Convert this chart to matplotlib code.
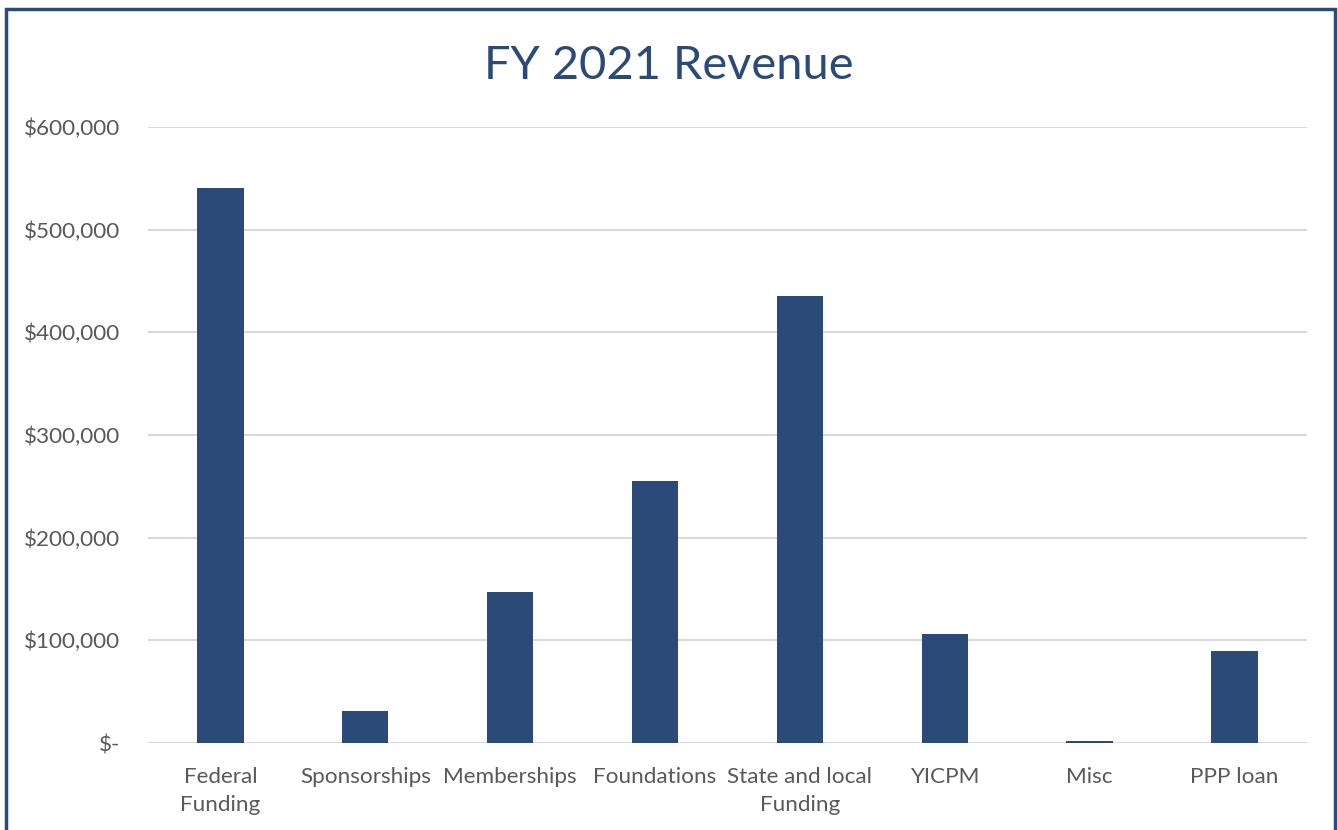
import matplotlib.pyplot as plt
from matplotlib.patches import Rectangle
from matplotlib.ticker import FuncFormatter

# Data
categories = ['Federal\nFunding', 'Sponsorships', 'Memberships', 'Foundations',
              'State and local\nFunding', 'YICPM', 'Misc', 'PPP loan']
revenue = [541000, 31000, 147000, 255000, 435000, 106000, 2000, 90000]
yticks = [0, 100000, 200000, 300000, 400000, 500000, 600000]

bar_color = '#2C4A77'
text_gray = '#595959'

plt.rcParams['font.family'] = ['Lato', 'DejaVu Sans']

fig = plt.figure(figsize=(13.38, 8.30), dpi=100)
ax = fig.add_axes([0.1106, 0.1048, 0.8662, 0.7422])

x = range(len(categories))
ax.bar(x, revenue, width=0.32, color=bar_color, zorder=3)

ax.set_xlim(-0.5, len(categories) - 0.5)
ax.set_ylim(0, 600000)
ax.set_yticks(yticks)


def money(v, pos):
    if v == 0:
        return '$-'
    return '${:,.0f}'.format(v)


ax.yaxis.set_major_formatter(FuncFormatter(money))
ax.set_xticks(list(x))
ax.set_xticklabels(categories, linespacing=1.45)

ax.grid(axis='y', color='#D9D9D9', linewidth=1.5, zorder=0)
for s in ax.spines.values():
    s.set_visible(False)
ax.tick_params(axis='both', length=0, labelsize=16.2, colors=text_gray)
ax.tick_params(axis='y', pad=20)
ax.tick_params(axis='x', pad=17.5)
for lab in ax.get_yticklabels():
    lab.set_horizontalalignment('right')

fig.text(0.5, 0.921, 'FY 2021 Revenue', ha='center', va='center',
         fontsize=33.8, color='#2C4A77')

# outer chart border (open at the bottom)
fig.patches.append(Rectangle((6 / 1338, -0.05), 1329 / 1338, 0.05 + 821 / 830,
                             transform=fig.transFigure, fill=False,
                             edgecolor='#2C4A77', linewidth=2.5))

fig.savefig('out.png', dpi=100)
